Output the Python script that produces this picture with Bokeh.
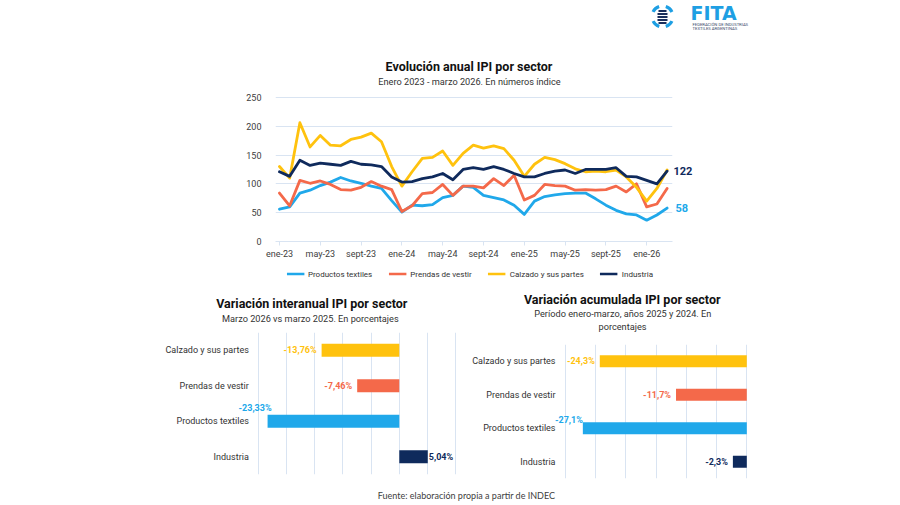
from bokeh.plotting import figure
from bokeh.models import Range1d, FactorRange, FixedTicker, Legend, LegendItem, Grid, Spacer
from bokeh.layouts import column, row
from bokeh.embed import file_html
from bokeh.resources import INLINE
from bokeh.core.properties import value

# ---------------- data ----------------
month_names = ["ene", "feb", "mar", "abr", "may", "jun", "jul", "ago", "sept", "oct", "nov", "dic"]
years = ["23", "24", "25", "26"]
months = [f"{m}-{y}" for y in years for m in month_names][:39]   # ene-23 .. mar-26
tick_labels = ["ene-23", "may-23", "sept-23", "ene-24", "may-24", "sept-24",
               "ene-25", "may-25", "sept-25", "ene-26"]

textiles = [56, 60, 84, 89, 97, 103, 111, 105, 101, 96, 92, 71, 51, 63, 62, 64, 76, 80, 96, 94,
            80, 76, 72, 63, 47, 70, 78, 81, 83, 84, 84, 74, 63, 54, 48, 46, 37, 46, 58]
prendas = [84, 62, 106, 101, 105, 99, 90, 89, 94, 104, 96, 90, 52, 62, 83, 85, 99, 80, 96, 96,
           93, 109, 97, 115, 72, 80, 99, 97, 96, 89, 90, 89, 90, 96, 86, 100, 60, 65, 92]
calzado = [130, 110, 206, 164, 184, 167, 166, 177, 181, 188, 173, 130, 96, 121, 144, 146, 157, 132, 153, 167,
           162, 166, 161, 141, 113, 134, 146, 142, 135, 126, 121, 122, 121, 124, 112, 94, 70, 92, 124]
industria = [121, 113, 141, 132, 136, 134, 132, 139, 134, 133, 130, 112, 103, 104, 109, 112, 118, 107, 125, 128,
             125, 130, 125, 118, 112, 112, 118, 122, 124, 118, 125, 125, 125, 128, 113, 112, 106, 100, 122]
y_ticks = [0, 50, 100, 150, 200, 250]

series_names = ["Productos textiles", "Prendas de vestir", "Calzado y sus partes", "Industria"]

sectores = ["Calzado y sus partes", "Prendas de vestir", "Productos textiles", "Industria"]
interanual = [-13.76, -7.46, -23.33, 5.04]
acumulada = [-24.3, -11.7, -27.1, -2.3]
grid_left = [-25, -20, -15, -10, -5, 0, 5, 10]
grid_right = [-30, -25, -20, -15, -10, -5, 0]

# ---------------- styles ----------------
FONT = "Roboto"
C_BLUE = "#20A8EA"
C_RED = "#F4694A"
C_YEL = "#FFC20E"
C_NAVY = "#0F2A5C"
colors = {"Productos textiles": C_BLUE, "Prendas de vestir": C_RED,
          "Calzado y sus partes": C_YEL, "Industria": C_NAVY}
GRID = "#D9E4F2"
TXT = "#333333"
TITLE_SIZE = "12.5px"
SUB_SIZE = "9.2px"


def base(w, h, xr, yr, **kw):
    f = figure(width=w, height=h, x_range=xr, y_range=yr, output_backend="svg",
               toolbar_location=None, **kw)
    f.frame_align = False
    f.outline_line_color = None
    f.background_fill_color = "white"
    f.border_fill_color = "white"
    return f


def blank(w, h):
    return base(w, h, Range1d(0, w), Range1d(h, 0), x_axis_type=None, y_axis_type=None, min_border=0)


def txt(f, x, y, s, size, bold=False, color=TXT, align="center", font=FONT):
    f.text(x=[x], y=[y], text=[s], text_align=align, text_baseline="middle",
           text_font=value(font), text_font_size=size,
           text_font_style="bold" if bold else "normal", text_color=color)


# ---------------- header (logo + top title) ----------------
hdr = blank(900, 92)
for a0, a1 in [(0.45, 1.25), (1.9, 2.69), (3.6, 4.4), (5.03, 5.83)]:
    hdr.arc(x=[662], y=[16], radius=10.5, start_angle=a0, end_angle=a1,
            line_color="#1E9FE3", line_width=3.2)
hdr.segment(x0=[658, 657, 657, 657, 658], y0=[10.5, 13.5, 16.5, 19.5, 22.5],
            x1=[666, 667, 667, 667, 666], y1=[10.5, 13.5, 16.5, 19.5, 22.5],
            line_color="#1B2F5C", line_width=2)
txt(hdr, 690, 12.5, "FITA", "19px", bold=True, color="#1E9FE3", align="left", font="DejaVu Sans")
txt(hdr, 692, 23.5, "FEDERACIÓN DE INDUSTRIAS", "4.2px", color="#3A4A6B", align="left")
txt(hdr, 692, 27.5, "TEXTILES ARGENTINAS", "4.2px", color="#3A4A6B", align="left")
txt(hdr, 468.5, 66, "Evolución anual IPI por sector", TITLE_SIZE, bold=True, color="#111111")
txt(hdr, 469, 81, "Enero 2023 - marzo 2026. En números índice", SUB_SIZE, color=TXT)

# ---------------- top line chart ----------------
x = list(range(len(months)))
yr = Range1d(0, 251.5)
p = base(673, 170, Range1d(-0.39, 38.53), yr,
         min_border_left=275, min_border_right=1, min_border_top=4, min_border_bottom=21)
p.xgrid.grid_line_color = None
p.ygrid.grid_line_color = GRID
p.yaxis.ticker = FixedTicker(ticks=y_ticks)
p.yaxis.axis_line_color = None
p.yaxis.major_tick_line_color = None
p.yaxis.minor_tick_line_color = None
p.yaxis.major_label_standoff = 8
p.yaxis.major_label_text_font = FONT
p.yaxis.major_label_text_font_size = "9px"
p.yaxis.major_label_text_color = "#404040"
tick_idx = [months.index(t) for t in tick_labels]
p.xaxis.ticker = FixedTicker(ticks=tick_idx)
p.xaxis.major_label_overrides = {i: months[i] for i in tick_idx}
p.xaxis.axis_line_color = GRID
p.xaxis.major_tick_line_color = GRID
p.xaxis.major_tick_in = 0
p.xaxis.major_tick_out = 4
p.xaxis.minor_tick_line_color = None
p.xaxis.major_label_standoff = 3
p.xaxis.major_label_text_font = FONT
p.xaxis.major_label_text_font_size = "9px"
p.xaxis.major_label_text_color = "#404040"

all_series = [textiles, prendas, calzado, industria]
for name, ys in zip(series_names, all_series):
    p.line(x, ys, line_color=colors[name], line_width=2.8, line_join="round", line_cap="round")

# end-value labels, in a strip sharing the chart's y scale
side = base(227, 170, Range1d(0, 227), yr, x_axis_type=None, y_axis_type=None,
            min_border_left=0, min_border_right=0, min_border_top=4, min_border_bottom=21)
side.text(x=[0, 2], y=[industria[-1], textiles[-1]], text=[str(industria[-1]), str(textiles[-1])],
          text_align="left", text_baseline="middle", text_font=value(FONT),
          text_font_style="bold", text_font_size="11px", text_color=[C_NAVY, C_BLUE])

# legend strip (series drawn off-view; only the legend is visible)
lf = base(861, 23, Range1d(0, 1), Range1d(-2, -1), x_axis_type=None, y_axis_type=None, min_border=0)
items = []
for name, ys in zip(series_names, all_series):
    r = lf.line(x, ys, line_color=colors[name], line_width=2.4)
    items.append(LegendItem(label=name, renderers=[r]))
leg = Legend(items=items, orientation="horizontal", location="center",
             border_line_color=None, background_fill_alpha=0,
             label_text_font=FONT, label_text_font_size="8px", label_text_color=TXT,
             glyph_width=18, glyph_height=8, label_standoff=4, spacing=16,
             padding=2, margin=0)
lf.add_layout(leg)


# ---------------- bar charts ----------------
def bar_chart(vals, w, h, px_unit, zero_px, lab_px, grid_ticks, mbb, styles, fmt):
    x0 = -zero_px / px_unit
    f = base(w, h, Range1d(x0, x0 + w / px_unit), FactorRange(*reversed(sectores)),
             x_axis_type=None, y_axis_type=None, min_border=0, min_border_bottom=mbb)
    f.add_layout(Grid(dimension=0, ticker=FixedTicker(ticks=grid_ticks), grid_line_color=GRID))
    f.hbar(y=sectores, left=0, right=vals, height=0.36,
           fill_color=[colors[s] for s in sectores], line_color=None)
    f.text(x=[(lab_px - zero_px) / px_unit] * len(sectores), y=sectores, text=sectores,
           text_align="right", text_baseline="middle", text_font=value(FONT),
           text_font_size="9px", text_color=TXT)
    n = len(sectores)
    for i, (s, v) in enumerate(zip(sectores, vals)):
        align, xo, yo = styles[i]
        f.text(x=[v], y=[n - 0.5 - i], text=[fmt(v)], x_offset=xo, y_offset=-yo,
               text_align=align, text_baseline="middle", text_font=value(FONT),
               text_font_style="bold", text_font_size="9px", text_color=colors[s])
    return f


left_styles = [("right", -5, 0), ("right", -5, 0), ("right", 4, 13), ("left", 1, 0)]
right_styles = [("right", -5, 0), ("right", -5, 0), ("right", 0, 8), ("right", -5, 0)]

pl = bar_chart(interanual, 462, 148, 5.646, 398.8, 248.3, grid_left, 6, left_styles,
               lambda v: f"{v:.2f}".replace(".", ",") + "%")
pr = bar_chart(acumulada, 438, 136, 6.05, 284.3, 93, grid_right, 2, right_styles,
               lambda v: f"{v:.1f}".replace(".", ",") + "%")

hl = blank(462, 47)
txt(hl, 311.3, 18.3, "Variación interanual IPI por sector", TITLE_SIZE, bold=True, color="#111111")
txt(hl, 311, 32.7, "Marzo 2026  vs marzo 2025. En porcentajes", SUB_SIZE)

hr = blank(438, 59)
txt(hr, 159.7, 14, "Variación acumulada IPI por sector", TITLE_SIZE, bold=True, color="#111111")
txt(hr, 160.3, 28.3, "Período enero-marzo, años 2025 y 2024. En", SUB_SIZE)
txt(hr, 160, 40.5, "porcentajes", SUB_SIZE)

foot = blank(900, 25)
txt(foot, 466, 15, "Fuente: elaboración propia a partir de INDEC", "9px", color="#404040", font="Lato")

layout = column(hdr, row(p, side), row(Spacer(width=39, height=23), lf),
                row(column(hl, pl), column(hr, pr)), foot)

open("out.html", "w").write(file_html(layout, INLINE))
